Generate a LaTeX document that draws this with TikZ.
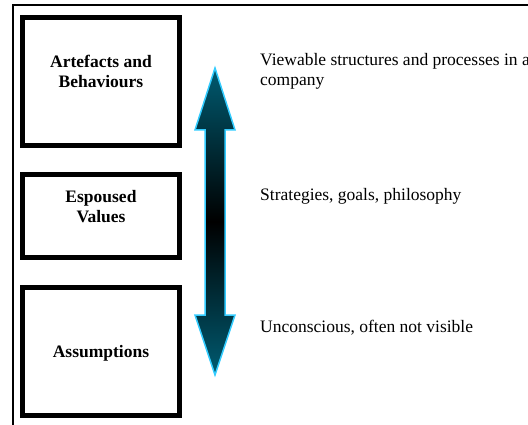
\documentclass[tikz,border=0pt]{standalone}
\usepackage{fontspec}
\setmainfont{Liberation Serif}
\usetikzlibrary{positioning}
\definecolor{arrowteal}{RGB}{0,91,113}
\definecolor{arrowedge}{RGB}{51,204,255}
\begin{document}
\begin{tikzpicture}[x=1pt,y=-1pt]

	\def \textx{260}
	\def \boxx{101}
	\tikzstyle{layer-label}=[align=center,inner sep=0pt,font=\fontsize{17.5}{20}\selectfont\bfseries]
	\tikzstyle{layer-node}=[draw=black,line width=5pt,minimum width=157pt]
	\tikzstyle{annot}=[anchor=north west,inner sep=0pt,align=left,font=\fontsize{17.5}{20}\selectfont]
	\useasboundingbox (0,0) rectangle (528,425);
	\clip (0,0) rectangle (528,425);
	% page frame
	\draw[line width=2pt] (12.5,430) -- (12.5,5) -- (540,5);

	% layers
	\node[layer-node,minimum height=128pt] 	(artefacts)	at (\boxx,81.5)		{};
	\node[layer-node,minimum height=83pt] 	(espoused)	at (\boxx,216)		{};
	\node[layer-node,minimum height=128pt] 	(assumptions)	at (\boxx,351.5)	{};
	% layer labels
	\node[layer-label] 	(artefactslabel)	at (\boxx,71)		{Artefacts and\\Behaviours};
	\node[layer-label] 	(espousedlabel)	at (\boxx,207)		{Espoused\\Values};
	\node[layer-label] 	(assumptionslabel)	at (\boxx,353)		{Assumptions};

	% visibility arrow
	\shadedraw[draw=arrowedge,line width=1.5pt,top color=arrowteal,bottom color=arrowteal,middle color=black]
		(215,68) -- (235,130) -- (225,130) -- (225,315) -- (235,315) -- (215,375)
		-- (195,315) -- (205,315) -- (205,130) -- (195,130) -- cycle;

	% notes
	\node[annot] 	(artefactsnote)	at (\textx,53)		{Viewable structures and processes in a\\company};
	\node[annot] 	(espousednote)	at (\textx,188)		{Strategies, goals, philosophy};
	\node[annot] 	(assumptionsnote)	at (\textx,320)		{Unconscious, often not visible};
\end{tikzpicture}
\end{document}
